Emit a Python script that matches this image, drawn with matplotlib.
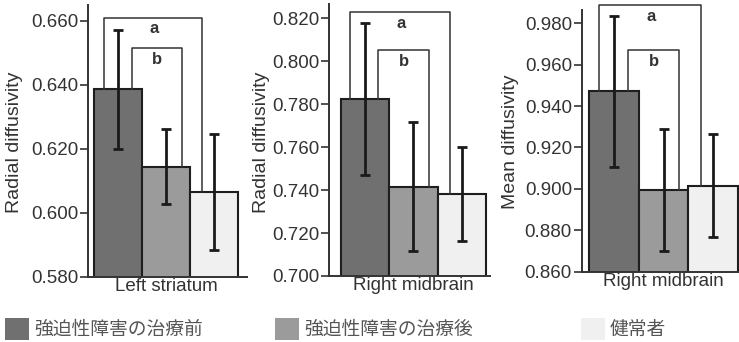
import matplotlib
matplotlib.use('Agg')
import matplotlib.pyplot as plt
from matplotlib.patches import Patch

plt.rcParams['font.family'] = ['Liberation Sans', 'DejaVu Sans']

# data
groups = ['強迫性障害の治療前', '強迫性障害の治療後', '健常者']
regions = ['Left striatum', 'Right midbrain', 'Right midbrain']
measures = ['Radial diffusivity', 'Radial diffusivity', 'Mean diffusivity']

left_striatum_rd = [0.6386, 0.6144, 0.6064]
left_striatum_rd_err = [0.0185, 0.0118, 0.0182]
right_midbrain_rd = [0.7826, 0.7416, 0.7382]
right_midbrain_rd_err = [0.0354, 0.0300, 0.0219]
right_midbrain_md = [0.9472, 0.8995, 0.9015]
right_midbrain_md_err = [0.0364, 0.0294, 0.0249]

ticks_1 = [0.580, 0.600, 0.620, 0.640, 0.660]
ticks_2 = [0.700, 0.720, 0.740, 0.760, 0.780, 0.800, 0.820]
ticks_3 = [0.860, 0.880, 0.900, 0.920, 0.940, 0.960, 0.980]

# significance brackets: a = before vs healthy, b = before vs after
bracket_a = [0.6610, 0.8230, 0.9888]
bracket_b = [0.6515, 0.8054, 0.9672]

means = [left_striatum_rd, right_midbrain_rd, right_midbrain_md]
errors = [left_striatum_rd_err, right_midbrain_rd_err, right_midbrain_md_err]
ticks = [ticks_1, ticks_2, ticks_3]

colors = ['#707070', '#9b9b9b', '#f0f0f0']
text_color = '#333333'

W, H = 739, 342
fig = plt.figure(figsize=(W / 100, H / 100), dpi=100)

# axes boxes in pixels (left, top, right, bottom), y and x limits
boxes = [(88, 5, 247, 276.7), (329, 4, 490, 276), (581.7, 10, 739, 271.7)]
ylims = [(0.580, 0.665), (0.700, 0.8267), (0.860, 0.9864)]
xlims = [(-0.63, 2.68), (-0.74, 2.58), (-0.65, 2.52)]
ylabel_pos = [(15, 142), (261, 142), (511, 142)]

x = [0, 1, 2]
for i in range(3):
    l, t, r, b = boxes[i]
    ax = fig.add_axes([l / W, 1 - b / H, (r - l) / W, (b - t) / H])
    ax.bar(x, means[i], width=1.0, color=colors, edgecolor='#1e1e1e', linewidth=1.5)
    ax.errorbar(x, means[i], yerr=errors[i], fmt='none', ecolor='#1a1a1a',
                elinewidth=2, capsize=3.8, capthick=2)

    # brackets
    m = means[i]
    ax.plot([-0.3, -0.3, 1.75, 1.75], [m[0], bracket_a[i], bracket_a[i], m[2]],
            color='#333333', lw=1.1, clip_on=False)
    ax.plot([0.28, 0.28, 1.32, 1.32], [m[0], bracket_b[i], bracket_b[i], m[1]],
            color='#333333', lw=1.1, clip_on=False)
    ax.annotate('a', xy=(0.74, bracket_a[i]), xytext=(0, -8), textcoords='offset points',
                ha='center', va='center', fontsize=12, fontweight='bold', color=text_color,
                annotation_clip=False)
    ax.annotate('b', xy=(0.80, bracket_b[i]), xytext=(0, -8.5), textcoords='offset points',
                ha='center', va='center', fontsize=12, fontweight='bold', color=text_color,
                annotation_clip=False)

    ax.set_ylim(*ylims[i])
    ax.set_xlim(*xlims[i])
    ax.set_yticks(ticks[i])
    ax.set_yticklabels([f'{v:.3f}' for v in ticks[i]])
    ax.set_xticks([1])
    ax.set_xticklabels([regions[i]])
    ax.tick_params(axis='y', length=6, width=1.2, colors='#333333', labelsize=13.5, pad=1)
    ax.tick_params(axis='x', length=0, labelsize=13.5, labelcolor=text_color, pad=1)
    for s in ['top', 'right']:
        ax.spines[s].set_visible(False)
    for s in ['left', 'bottom']:
        ax.spines[s].set_color('#333333')
        ax.spines[s].set_linewidth(1.4)
    ax.patch.set_alpha(0)

    fig.text(ylabel_pos[i][0] / W, 1 - ylabel_pos[i][1] / H, measures[i],
             rotation=90, ha='center', va='center', fontsize=14, color=text_color)

# legend, one entry per group spread along the bottom
legend_x = [5, 275, 581]
for i in range(3):
    fig.legend(handles=[Patch(facecolor=colors[i], edgecolor='none')], labels=[groups[i]],
               loc='center left', bbox_to_anchor=(legend_x[i] / W, 1 - 329 / H),
               frameon=False, borderpad=0, borderaxespad=0, handlelength=1.3,
               handleheight=1.45, handletextpad=0.25,
               prop={'family': ['Noto Sans CJK JP', 'DejaVu Sans'], 'size': 13.5},
               labelcolor='#555555')

fig.savefig('out.png', dpi=100, facecolor='white')
